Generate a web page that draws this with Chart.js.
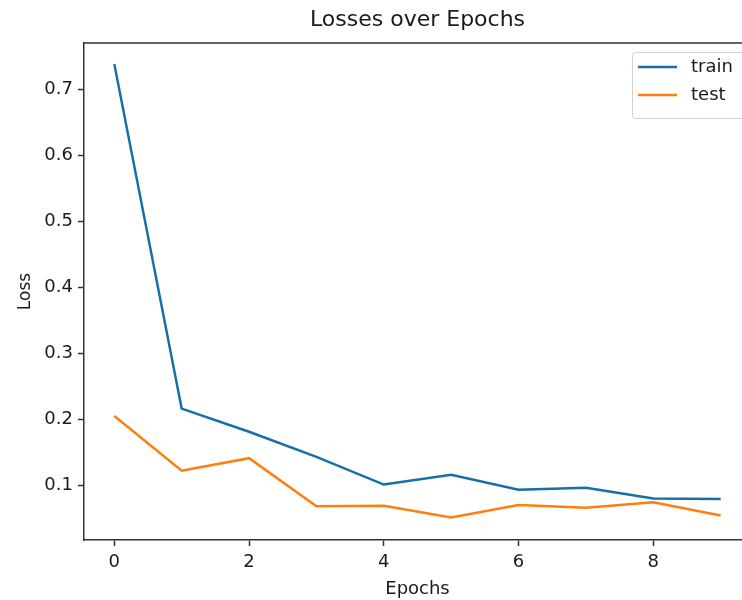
<!DOCTYPE html>
<html>
<head>
<meta charset="utf-8">
<script src="https://cdn.jsdelivr.net/npm/chart.js@4.4.1/dist/chart.umd.min.js"></script>
<style>
  html, body { margin: 0; padding: 0; background: #fff; overflow: hidden; }
  #wrap { width: 760px; height: 600px; }
</style>
</head>
<body>
<div id="wrap"><canvas id="myChart" width="760" height="600"></canvas></div>
<script>
// Chart data
let epochs = [0, 1, 2, 3, 4, 5, 6, 7, 8, 9];
let trainLoss = [0.738, 0.216, 0.181, 0.143, 0.101, 0.116, 0.093, 0.096, 0.080, 0.079];
let testLoss = [0.205, 0.122, 0.141, 0.068, 0.069, 0.051, 0.070, 0.066, 0.074, 0.054];
let xTicks = [0, 2, 4, 6, 8];
let yTicks = [0.1, 0.2, 0.3, 0.4, 0.5, 0.6, 0.7];

let trainColor = '#1470a5';
let testColor = '#ff7f0e';
let textColor = '#1a1a1a';
let font = 'DejaVu Sans';

function toPoints(values) {
    return epochs.map((e, i) => ({ x: e, y: values[i] }));
}

// top spine, title and boxed legend like matplotlib
const extras = {
    id: 'extras',
    afterDraw(chart) {
        const ctx = chart.ctx;
        const area = chart.chartArea;
        ctx.save();
        ctx.strokeStyle = '#333';
        ctx.lineWidth = 1.5;
        ctx.beginPath();
        ctx.moveTo(area.left, area.top);
        ctx.lineTo(area.right, area.top);
        ctx.lineTo(area.right, area.bottom);
        ctx.stroke();

        ctx.fillStyle = textColor;
        ctx.font = '22px "' + font + '"';
        ctx.textAlign = 'center';
        ctx.textBaseline = 'middle';
        ctx.fillText('Losses over Epochs', (area.left + area.right) / 2, 20);

        // legend
        const bx = 632, by = 52, bw = 112, bh = 66;
        ctx.fillStyle = 'rgba(255,255,255,0.8)';
        ctx.strokeStyle = '#d0d0d0';
        ctx.lineWidth = 1;
        ctx.beginPath();
        ctx.roundRect(bx + 0.5, by + 0.5, bw, bh, 3);
        ctx.fill();
        ctx.stroke();
        const items = [['train', trainColor], ['test', testColor]];
        ctx.font = '18px "' + font + '"';
        ctx.textAlign = 'left';
        items.forEach((it, i) => {
            const yy = by + 15 + i * 28;
            ctx.strokeStyle = it[1];
            ctx.lineWidth = 2.5;
            ctx.beginPath();
            ctx.moveTo(bx + 6, yy);
            ctx.lineTo(bx + 45, yy);
            ctx.stroke();
            ctx.fillStyle = textColor;
            ctx.fillText(it[0], bx + 59, yy);
        });
        ctx.restore();
    }
};

function createChart() {
    var ctx = document.getElementById('myChart').getContext('2d');
    new Chart(ctx, {
        type: 'line',
        data: {
            datasets: [
                { label: 'train', data: toPoints(trainLoss), borderColor: trainColor, borderWidth: 2.5, pointRadius: 0, tension: 0, fill: false },
                { label: 'test', data: toPoints(testLoss), borderColor: testColor, borderWidth: 2.5, pointRadius: 0, tension: 0, fill: false }
            ]
        },
        options: {
            responsive: false,
            animation: false,
            layout: { padding: { top: 43, right: 9, left: 0, bottom: 0 } },
            plugins: {
                legend: { display: false },
                title: { display: false },
                tooltip: { enabled: false }
            },
            scales: {
                x: {
                    type: 'linear',
                    min: -0.45,
                    max: 9.45,
                    afterBuildTicks: (scale) => { scale.ticks = xTicks.map(v => ({ value: v })); },
                    afterFit: (scale) => { scale.height = 60; },
                    border: { color: '#333', width: 1.5 },
                    grid: { drawOnChartArea: false, color: '#333', tickLength: 6, tickWidth: 1.5 },
                    ticks: { color: textColor, font: { family: font, size: 18 }, padding: 6 },
                    title: { display: true, text: 'Epochs', color: textColor, font: { family: font, size: 18 }, padding: { top: 0, bottom: 0 } }
                },
                y: {
                    type: 'linear',
                    min: 0.017,
                    max: 0.770,
                    afterBuildTicks: (scale) => { scale.ticks = yTicks.map(v => ({ value: v })); },
                    afterFit: (scale) => { scale.width = 84; },
                    border: { color: '#333', width: 1.5 },
                    grid: { drawOnChartArea: false, color: '#333', tickLength: 6, tickWidth: 1.5 },
                    ticks: { color: textColor, font: { family: font, size: 18 }, padding: 5, callback: (v) => v.toFixed(1) },
                    title: { display: true, text: 'Loss', color: textColor, font: { family: font, size: 17 }, padding: { top: 15, bottom: 4 } }
                }
            }
        },
        plugins: [extras]
    });
}

createChart();
</script>
</body>
</html>
